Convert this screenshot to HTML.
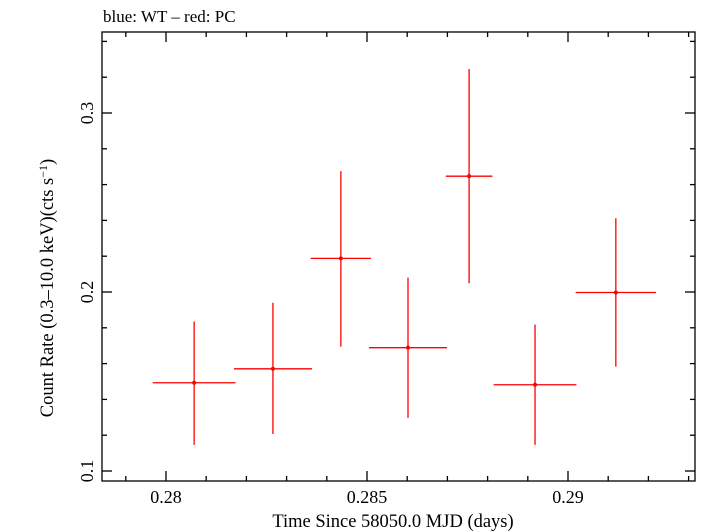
<!DOCTYPE html>
<html><head><meta charset="utf-8"><style>
body{margin:0;background:#fff}
svg{display:block;font-family:"Liberation Serif",serif}
</style></head><body>
<svg id="c" width="709" height="532">
<text x="103" y="22" font-size="17">blue: WT – red: PC</text>
<rect x="102" y="32" width="593" height="449" fill="none" stroke="#000" stroke-width="1.3"/>
<g id="ticks"></g>
<g id="marks"></g>
<text x="393" y="527" font-size="18.5" text-anchor="middle">Time Since 58050.0 MJD (days)</text>
<text transform="translate(53,288) rotate(-90)" font-size="18.5" text-anchor="middle">Count Rate (0.3–10.0 keV)(cts s<tspan dy="-6" font-size="12">−1</tspan><tspan dy="6">)</tspan></text>
</svg>
<script>
const times=[0.2807,0.28266,0.28435,0.28602,0.28754,0.28918,0.29119];
const timeErr=[0.00103,0.00097,0.00075,0.00097,0.00058,0.00103,0.001];
const rates=[0.1493,0.1571,0.2188,0.1689,0.2647,0.1482,0.1997];
const rateErrUp=[0.0342,0.0369,0.0487,0.0391,0.0599,0.0336,0.0415];
const rateErrDown=[0.0347,0.0364,0.0493,0.0392,0.0599,0.0336,0.0414];
const xTickLabels=[0.28,0.285,0.29];
const yTickLabels=[0.1,0.2,0.3];
const NS="http://www.w3.org/2000/svg";
const X0=102,X1=695,Y0=32,Y1=481;
const xs=v=>166+(v-0.28)*40200;
const ys=v=>471-(v-0.1)*1790;
const tg=document.getElementById('ticks'),mg=document.getElementById('marks');
function ln(g,x1,y1,x2,y2,c,w,name){const l=document.createElementNS(NS,'line');
l.setAttribute('x1',x1);l.setAttribute('y1',y1);l.setAttribute('x2',x2);l.setAttribute('y2',y2);
l.setAttribute('stroke',c);l.setAttribute('stroke-width',w);


g.appendChild(l);return l;}
for(let v=0.278;v<=0.2935;v+=0.001){const x=xs(v);if(x<X0||x>X1)continue;
const maj=Math.abs(v/0.005-Math.round(v/0.005))<1e-6;const L=maj?10:5;
ln(tg,x,Y1,x,Y1-L,'#000',1.3,'x-tick');ln(tg,x,Y0,x,Y0+L,'#000',1.3,'x-tick-top');}
for(let v=0.08;v<=0.35;v+=0.02){const y=ys(v);if(y<Y0||y>Y1)continue;
const maj=Math.abs(v*10-Math.round(v*10))<1e-6;const L=maj?10:5;
ln(tg,X0,y,X0+L,y,'#000',1.3,'y-tick');ln(tg,X1,y,X1-L,y,'#000',1.3,'y-tick-right');}
xTickLabels.forEach(v=>{const t=document.createElementNS(NS,'text');t.setAttribute('x',xs(v));t.setAttribute('y',503);
t.setAttribute('font-size','18');t.setAttribute('text-anchor','middle');t.textContent=String(v);


tg.appendChild(t);});
yTickLabels.forEach(v=>{const t=document.createElementNS(NS,'text');
t.setAttribute('transform','translate(93,'+ys(v)+') rotate(-90)');
t.setAttribute('font-size','18');t.setAttribute('text-anchor','middle');t.textContent=String(v);


tg.appendChild(t);});
times.forEach((t,i)=>{const x=xs(t),y=ys(rates[i]);
ln(mg,xs(t-timeErr[i]),y,xs(t+timeErr[i]),y,'#f00',1.3,'x-error-bar');
ln(mg,x,ys(rates[i]+rateErrUp[i]),x,ys(rates[i]-rateErrDown[i]),'#f00',1.3,'y-error-bar');
const c=document.createElementNS(NS,'circle');c.setAttribute('cx',x);c.setAttribute('cy',y);c.setAttribute('r',2);c.setAttribute('fill','#f00');


mg.appendChild(c);});
</script>
</body></html>
